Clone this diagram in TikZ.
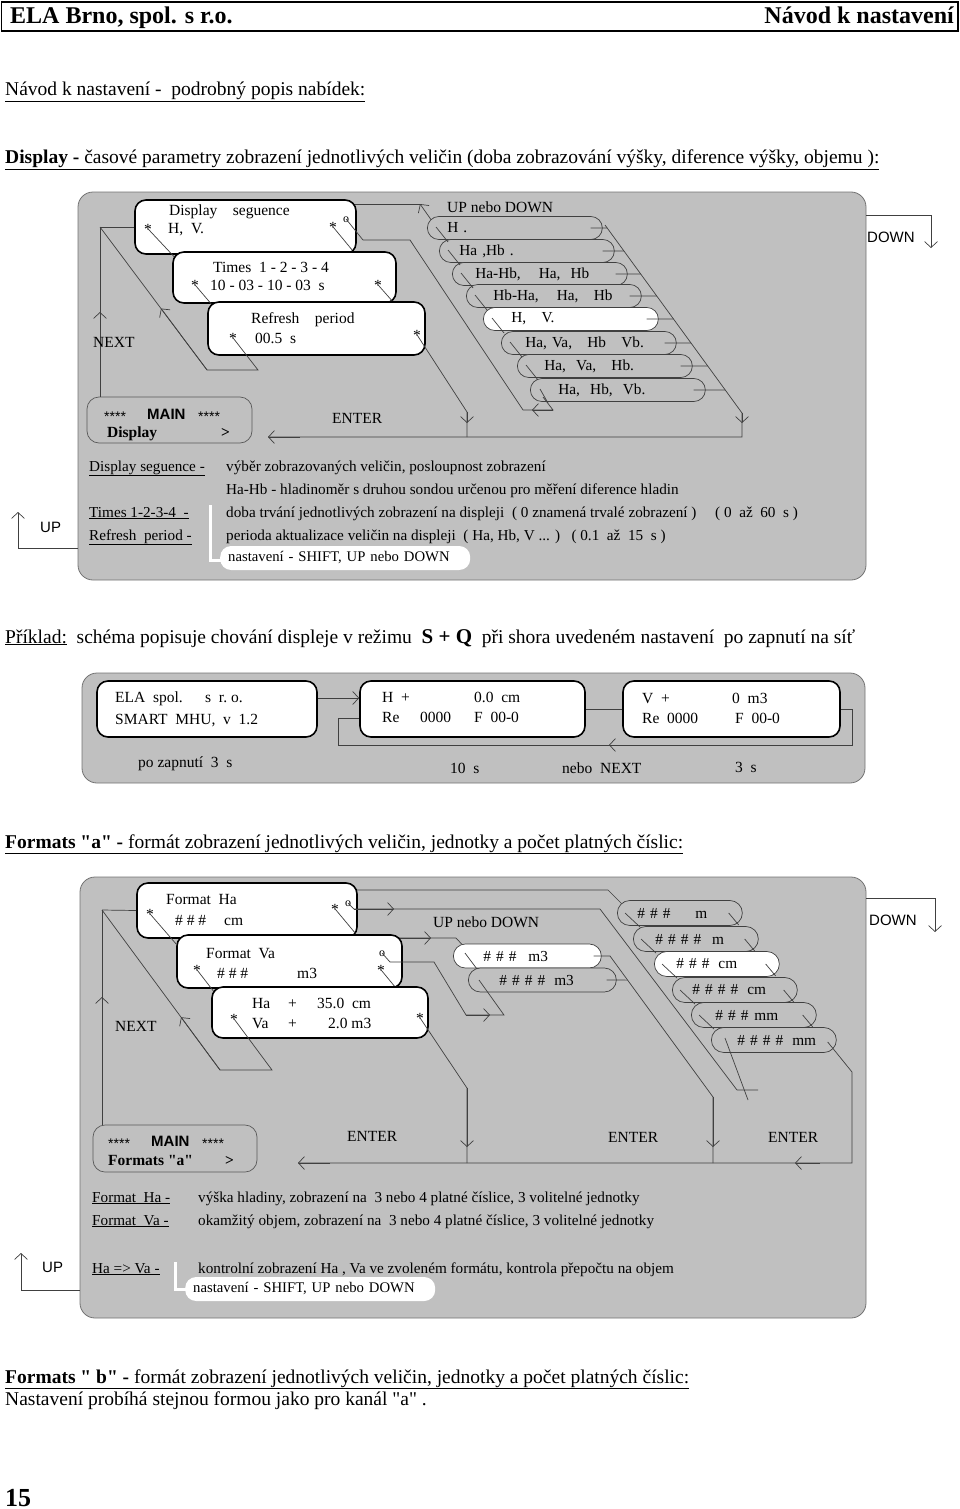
\documentclass[tikz,border=0pt]{standalone}
\usepackage{fontspec}
\setmainfont{Liberation Serif}[Ligatures=TeXOff]
\setsansfont{Liberation Sans}
\usetikzlibrary{arrows.meta,calc}
\definecolor{panelgray}{RGB}{192,192,192}
\definecolor{wirecol}{RGB}{64,64,64}
\newcommand{\fsz}[1]{\fontsize{#1}{#1}\selectfont}
\tikzset{
  panel/.style={draw=black!55, fill=panelgray, line width=0.8pt, rounded corners=15pt, inner sep=0pt},
  lcd/.style={draw, fill=white, line width=1.6pt, rounded corners=11pt, inner sep=0pt},
  menu/.style={draw=black!65, fill=panelgray, line width=0.7pt, rounded corners=12pt, inner sep=0pt},
  pill/.style={draw=wirecol, line width=0.7pt, inner sep=0pt, align=left, anchor=west, font=\fsz{15.3}},
  pillA/.style={pill, text width=175pt, minimum height=23pt, rounded corners=11.5pt},
  pillB/.style={pill, text width=125pt, minimum height=25pt, rounded corners=12.5pt},
  pillC/.style={pill, text width=148pt, minimum height=24pt, rounded corners=12pt},
  setbox/.style={fill=white, rounded corners=11pt, text width=234pt, inner xsep=8pt, inner ysep=0pt, minimum height=24pt, anchor=west, font=\fsz{14.7}},
  wire/.style={draw=wirecol, line width=0.7pt},
  tip/.style={-{Straight Barb[length=6pt,width=13pt]}},
  txt/.style={inner sep=0pt, anchor=base west, font=\fsz{15.5}},
  desc/.style={inner sep=0pt, anchor=base west, font=\fsz{15.2}},
  head/.style={inner sep=0pt, anchor=base west, font=\fsz{19.5}},
  btn/.style={inner sep=0pt, anchor=base west, font=\sffamily\fsz{15}},
  stars/.style={inner sep=0pt, anchor=base west, font=\sffamily\fsz{14}},
}
\begin{document}
\begin{tikzpicture}[x=1pt,y=-1pt]
\useasboundingbox (0,0) rectangle (960,1509);

% header
\draw[line width=1.2pt] (1.5,2) rectangle (958,31);
\node[txt, font=\bfseries\fsz{24}] (firm) at (10,24) {ELA Brno, spol. s r.o.};
\node[txt, anchor=base east, font=\bfseries\fsz{24}] (title) at (954,24) {Návod k nastavení};
\node[head] (intro) at (5,96) {\underline{Návod k nastavení -\ \ podrobný popis nabídek:}};
\node[head] (dsphead) at (5,164) {\underline{\textbf{Display -} časové parametry zobrazení jednotlivých veličin (doba zobrazování výšky, diference výšky, objemu ):}};

% ---------- Display panel ----------
\node[panel, minimum width=788pt, minimum height=388pt] (pan1) at (472,386) {};
\coordinate (nx1) at (100,227);
\node[menu, minimum width=165pt, minimum height=46pt] (main1) at (169.5,420) {};
\draw[wire] (main1.north -| nx1) -- (nx1);
\draw[wire, tip] (main1.north -| nx1) -- (100,312);
\draw[wire] (350,204) -- (420,204);
\draw[wire, {Straight Barb[length=6pt,width=13pt]}-] (420,204) -- (432,221);

\node[lcd, minimum width=221pt, minimum height=54pt] (dseq) at (245.5,227) {};
\draw[wire] (nx1) -- (dseq.west);
\node[txt] (dsA) at (169,215) {Display\quad seguence};
\node[txt] (dsS1) at (144,234) {*};
\node[txt] (dsB) at (168,233) {H,\ \ V.};
\node[txt] (dsS2) at (329,232) {*};
\node[txt, font=\fsz{12}] (dsO) at (343,222) {o};
\draw[wire] (dsS1.center) -- ++(30,32);
\draw[wire] (dsS2.center) -- ++(19,23);

\node[lcd, minimum width=223pt, minimum height=51pt] (times) at (284.5,277.5) {};
\node[txt] (tmA) at (213,272) {Times\ \ 1 - 2 - 3 - 4};
\node[txt] (tmS1) at (191,290) {*};
\node[txt] (tmB) at (210,290) {10 - 03 - 10 - 03\ \ s};
\node[txt] (tmS2) at (374,290) {*};
\draw[wire] (tmS1.center) -- ++(17,20);
\draw[wire] (tmS2.center) -- ++(15,17);

\node[lcd, minimum width=217pt, minimum height=53pt] (refr) at (316.5,328.5) {};
\node[txt] (rfA) at (251,323) {Refresh\quad period};
\node[txt] (rfS1) at (229,343) {*};
\node[txt] (rfB) at (255,343) {00.5\ \ s};
\node[txt] (rfS2) at (413,340) {*};
\coordinate (lp1) at (207,370);
\draw[wire] (rfS1.center) -- (258,370) -- (lp1) -- (nx1);
\draw[wire, tip] (lp1) -- ($(lp1)!0.43!(nx1)$);
\coordinate (ent1) at (268,437);
\draw[wire] (rfS2.center) -- (467,412) -- (467,437);
\draw[wire, tip] (467,412) -- (467,423);

% value list
\coordinate (rd1) at (605,225);
\coordinate (rd2) at (742,413);
\draw[wire] (rd1) -- (rd2) -- (742,437) -- (ent1);
\draw[wire, tip] (rd2) -- (742,423);
\draw[wire, tip] (300,437) -- (ent1);
\node[txt] (updn1) at (447,212) {UP nebo DOWN};
\foreach \n/\px/\py/\pf/\pt in {
  1/427/228/panelgray/{\hspace*{20pt}H .},
  2/439/251/panelgray/{\hspace*{20pt}Ha ,Hb .},
  3/452/274/panelgray/{\hspace*{23pt}Ha-Hb,\hspace{18pt}Ha,\ \ Hb},
  4/466/296/panelgray/{\hspace*{27pt}Hb-Ha,\hspace{18pt}Ha,\ \ \ Hb},
  5/483/319/white/{\hspace*{28pt}H,\ \ \ V.},
  6/501/343/panelgray/{\hspace*{24pt}Ha,\ Va,\ \ \ Hb\ \ \ Vb.},
  7/517/366/panelgray/{\hspace*{27pt}Ha,\ \ Va,\ \ \ Hb.},
  8/530/390/panelgray/{\hspace*{28pt}Ha,\ \ Hb,\ \ Vb.}}
  \node[pillA, fill=\pf] (p\n) at (\px,\py) {\pt};
\foreach \n in {1,...,8}
  \draw[wire] ([xshift=-12pt]p\n.east) -- (intersection of p\n.west--p\n.east and rd1--rd2);
\foreach \n in {1,...,7}
  \draw[wire] ([shift={(9,-1)}]p\n.west) -- ++(12,15);
\draw[wire] ([shift={(10,-1)}]p8.west) -- ++(8,14);
\draw[wire] (dsO.center) -- (363,240) -- (410,240) -- (523,410) -- (553,410) -- (543,397);
\draw[wire, tip] (553,410) -- (532,410);

\node[stars] (m1a) at (104,421) {****};
\node[btn, font=\sffamily\bfseries\fsz{15}] (m1b) at (147,419) {MAIN};
\node[stars] (m1c) at (198,421) {****};
\node[txt, font=\bfseries\fsz{15.5}] (m1d) at (107,437) {Display};
\node[txt, font=\bfseries\fsz{15.5}] (m1e) at (221,437) {>};
\node[txt] (next1) at (93,347) {NEXT};
\node[txt] (enter1) at (332,423) {ENTER};

\coordinate (dn1) at (931,248);
\draw[wire, tip] (pan1.east |- 0,215) -- (931,215) -- (dn1);
\node[btn] (dn1t) at (867,242) {DOWN};
\coordinate (up1) at (18,512);
\draw[wire, tip] (pan1.west |- 0,548) -- (18,548) -- (up1);
\node[btn] (up1t) at (40,532) {UP};

\node[desc] (d1a) at (89,471) {\underline{Display seguence -}};
\node[desc] (d1b) at (226,471) {výběr zobrazovaných veličin, posloupnost zobrazení};
\node[desc] (d1c) at (226,494) {Ha-Hb - hladinoměr s druhou sondou určenou pro měření diference hladin};
\node[desc] (d1d) at (89,517) {\underline{Times 1-2-3-4\ \ -}};
\node[desc] (d1e) at (226,517) {doba trvání jednotlivých zobrazení na displeji\ \ ( 0 znamená trvalé zobrazení )};
\node[desc] (d1f) at (715,517) {( 0\ \ až\ \ 60\ \ s )};
\node[desc] (d1g) at (89,540) {\underline{Refresh\ \ period -}};
\node[desc] (d1h) at (226,540) {perioda aktualizace veličin na displeji\ \ ( Ha, Hb, V ... )\ \ \ ( 0.1\ \ až\ \ 15\ \ s )};
\draw[white, line width=3pt] (210,505) -- (210,560) -- (224,560);
\node[setbox] (set1) at (220,558) {nastavení - SHIFT, UP nebo DOWN};

% ---------- example ----------
\node[head] (exa) at (5,643) {\underline{Příklad:}\ \ schéma popisuje chování displeje v režimu\ \ {\bfseries\fsz{21}S + Q}\ \ při shora uvedeném nastavení\ \ po zapnutí na síť};
\node[panel, minimum width=783pt, minimum height=110pt] (pan2) at (473.5,728) {};
\node[lcd, minimum width=220pt, minimum height=56pt] (b1) at (207,709) {};
\node[lcd, minimum width=225pt, minimum height=56pt] (b2) at (472.5,709) {};
\node[lcd, minimum width=217pt, minimum height=56pt] (b3) at (731.5,709) {};
\node[txt] (b1a) at (115,702) {ELA\ \ spol.};
\node[txt] (b1b) at (205,702) {s\ \ r.\ o.};
\node[txt] (b1c) at (115,724) {SMART\ \ MHU,\ \ v\ \ 1.2};
\node[txt] (b2a) at (382,702) {H\ \ +};
\node[txt] (b2b) at (474,702) {0.0\ \ cm};
\node[txt] (b2c) at (382,722) {Re};
\node[txt] (b2d) at (420,722) {0000};
\node[txt] (b2e) at (474,722) {F\ \ 00-0};
\node[txt] (b3a) at (642,703) {V\ \ +};
\node[txt] (b3b) at (732,703) {0\ \ m3};
\node[txt] (b3c) at (642,723) {Re\ \ 0000};
\node[txt] (b3d) at (735,723) {F\ \ 00-0};
\draw[wire, tip] ([yshift=11pt]b1.east) -- ([yshift=11pt]b2.west);
\draw[wire] (b2.east) -- (b3.west);
\draw[wire] (b3.east) -- (852,709) -- (852,745) -- (338,745) -- (338,718) -- ([yshift=-9pt]b2.west);
\draw[wire, tip] (630,745) -- (609,745);
\node[txt] (t1) at (138,767) {po zapnutí\ \ 3\ \ s};
\node[txt] (t2) at (450,773) {10\ \ s};
\node[txt] (t3) at (562,773) {nebo\ \ NEXT};
\node[txt] (t4) at (735,772) {3\ \ s};

% ---------- Formats a panel ----------
\node[head] (fahead) at (5,848) {\underline{\textbf{Formats "a" -} formát zobrazení jednotlivých veličin, jednotky a počet platných číslic:}};
\node[panel, minimum width=786pt, minimum height=441pt] (pan3) at (473,1097.5) {};
\node[menu, minimum width=164pt, minimum height=47pt] (main3) at (175,1148.5) {};
\coordinate (nx3) at (102,910);
\draw[wire] (main3.north -| nx3) -- (nx3);
\draw[wire, tip] (main3.north -| nx3) -- (102,997);
\draw[wire] (352,890) -- (608,890) -- (624,906);
\draw[wire] (398,938) -- (456,938) -- (470,953);
\draw[wire, tip] (398,938) -- (431,938);

\node[lcd, minimum width=220pt, minimum height=55pt] (fha) at (247,910.5) {};
\draw[wire] (nx3) -- (fha.west);
\node[txt] (fhA) at (166,904) {Format\ \ Ha};
\node[txt] (fhS1) at (146,919) {*};
\node[txt] (fhB) at (175,925) {\# \# \#};
\node[txt] (fhC) at (224,925) {cm};
\node[txt] (fhS2) at (331,914) {*};
\node[txt, font=\fsz{12}] (fhO) at (345,906) {o};
\draw[wire] (fhS1.center) -- ++(26,30);
\draw[wire] (fhS2.center) -- ++(20,24);
\draw[wire] (fhO.center) -- (354,909) -- (600,909) -- (737,1090) -- (758,1090);
\draw[wire, tip] (354,909) -- (394,909);

\node[lcd, minimum width=225pt, minimum height=53pt] (fva) at (289.5,961.5) {};
\node[txt] (fvA) at (206,958) {Format\ \ Va};
\node[txt] (fvS1) at (193,975) {*};
\node[txt] (fvB) at (217,978) {\# \# \#};
\node[txt] (fvC) at (297,978) {m3};
\node[txt] (fvS2) at (377,975) {*};
\node[txt, font=\fsz{12}] (fvO) at (379,956) {o};
\draw[wire] (fvS1.center) -- ++(17,22);
\draw[wire] (fvS2.center) -- ++(14,17);

\node[lcd, minimum width=216pt, minimum height=51pt] (hava) at (320,1012.5) {};
\node[txt] (hvA) at (252,1008) {Ha};
\node[txt] (hvP1) at (288,1008) {+};
\node[txt] (hvB) at (317,1008) {35.0\ \ cm};
\node[txt] (hvS1) at (230,1024) {*};
\node[txt] (hvC) at (252,1028) {Va};
\node[txt] (hvP2) at (288,1028) {+};
\node[txt] (hvD) at (328,1028) {2.0 m3};
\node[txt] (hvS2) at (416,1023) {*};
\coordinate (lp3) at (220,1070);
\draw[wire] (hvS1.center) -- (272,1070) -- (lp3) -- (nx3);
\draw[wire, tip] (lp3) -- ($(lp3)!0.33!(nx3)$);
\coordinate (ent3) at (298,1163);
\draw[wire] (hvS2.center) -- (467,1088) -- (467,1163);
\draw[wire, tip] (467,1088) -- (467,1147);

% Va formats
\node[pillC, fill=white] (mp1) at (453,956) {\hspace*{30pt}\# \# \#\hspace{12pt}m3};
\node[pillC, fill=panelgray] (mp2) at (468,980) {\hspace*{31pt}\# \# \# \#\hspace{9pt}m3};
\draw[wire] ([shift={(12,-3)}]mp1.west) -- ++(12,16);
\draw[wire] ([xshift=-8pt]mp1.east) -- (610,956) -- (713,1097) -- (713,1163);
\draw[wire, tip] (713,1097) -- (713,1147);
\draw[wire] ([xshift=-10pt]mp2.east) -- (intersection of mp2.west--mp2.east and 610,956--713,1097);
\draw[wire] (fvO.center) -- (390,962) -- (434,962) -- (466,1015) -- (504,1015) -- (479,980);
\draw[wire, tip] (466,1015) -- (490,1015);
\node[txt] (updn3) at (433,927) {UP nebo DOWN};

% Ha formats
\foreach \n/\px/\py/\pf/\pt in {
  1/617/913/panelgray/{\hspace*{20pt}\# \# \#\hspace{25pt}m},
  2/633/939/panelgray/{\hspace*{22pt}\# \# \# \#\hspace{11pt}m},
  3/654/964/white/{\hspace*{22pt}\# \# \#\hspace{9pt}cm},
  4/672/990/panelgray/{\hspace*{20pt}\# \# \# \#\hspace{9pt}cm},
  5/691/1015/panelgray/{\hspace*{24pt}\# \# \#\hspace{6pt}mm},
  6/711/1040/panelgray/{\hspace*{26pt}\# \# \# \#\hspace{9pt}mm}}
  \node[pillB, fill=\pf] (rp\n) at (\px,\py) {\pt};
\foreach \n in {1,...,5}{
  \draw[wire] ([xshift=8pt]rp\n.west) -- ++(15,14);
  \draw[wire] ([xshift=-14pt]rp\n.east) -- ++(10,12);
}
\draw[wire] ([shift={(14,-2)}]rp6.west) -- (748,1100);
\draw[wire] ([shift={(-9,2)}]rp6.east) -- (852,1072) -- (852,1163) -- (ent3);
\draw[wire, tip] (330,1163) -- (ent3);
\draw[wire, tip] (820,1163) -- (795,1163);

\node[stars] (m3a) at (108,1148) {****};
\node[btn, font=\sffamily\bfseries\fsz{15}] (m3b) at (151,1146) {MAIN};
\node[stars] (m3c) at (202,1148) {****};
\node[txt, font=\bfseries\fsz{15.5}] (m3d) at (108,1165) {Formats "a"};
\node[txt, font=\bfseries\fsz{15.5}] (m3e) at (225,1165) {>};
\node[txt] (next3) at (115,1031) {NEXT};
\node[txt] (enter3a) at (347,1141) {ENTER};
\node[txt] (enter3b) at (608,1142) {ENTER};
\node[txt] (enter3c) at (768,1142) {ENTER};

\coordinate (dn3) at (935,932);
\draw[wire, tip] (pan3.east |- 0,898) -- (935,898) -- (dn3);
\node[btn] (dn3t) at (869,925) {DOWN};
\coordinate (up3) at (21,1253);
\draw[wire, tip] (pan3.west |- 0,1290) -- (21,1290) -- (up3);
\node[btn] (up3t) at (42,1272) {UP};

\node[desc] (d3a) at (92,1202) {\underline{Format\ \ Ha -}};
\node[desc] (d3b) at (198,1202) {výška hladiny, zobrazení na\ \ 3 nebo 4 platné číslice, 3 volitelné jednotky};
\node[desc] (d3c) at (92,1225) {\underline{Format\ \ Va -}};
\node[desc] (d3d) at (198,1225) {okamžitý objem, zobrazení na\ \ 3 nebo 4 platné číslice, 3 volitelné jednotky};
\node[desc] (d3e) at (92,1273) {\underline{Ha => Va -}};
\node[desc] (d3f) at (198,1273) {kontrolní zobrazení Ha , Va ve zvoleném formátu, kontrola přepočtu na objem};
\draw[white, line width=3pt] (175,1262) -- (175,1289) -- (188,1289);
\node[setbox] (set3) at (185,1289) {nastavení - SHIFT, UP nebo DOWN};

% ---------- Formats b ----------
\node[head] (fbhead) at (5,1383) {\underline{\textbf{Formats " b" -} formát zobrazení jednotlivých veličin, jednotky a počet platných číslic:}};
\node[head] (fbtext) at (5,1405) {Nastavení probíhá stejnou formou jako pro kanál "a" .};
\node[txt, font=\bfseries\fsz{26}] (page) at (5,1506) {15};
\end{tikzpicture}
\end{document}
